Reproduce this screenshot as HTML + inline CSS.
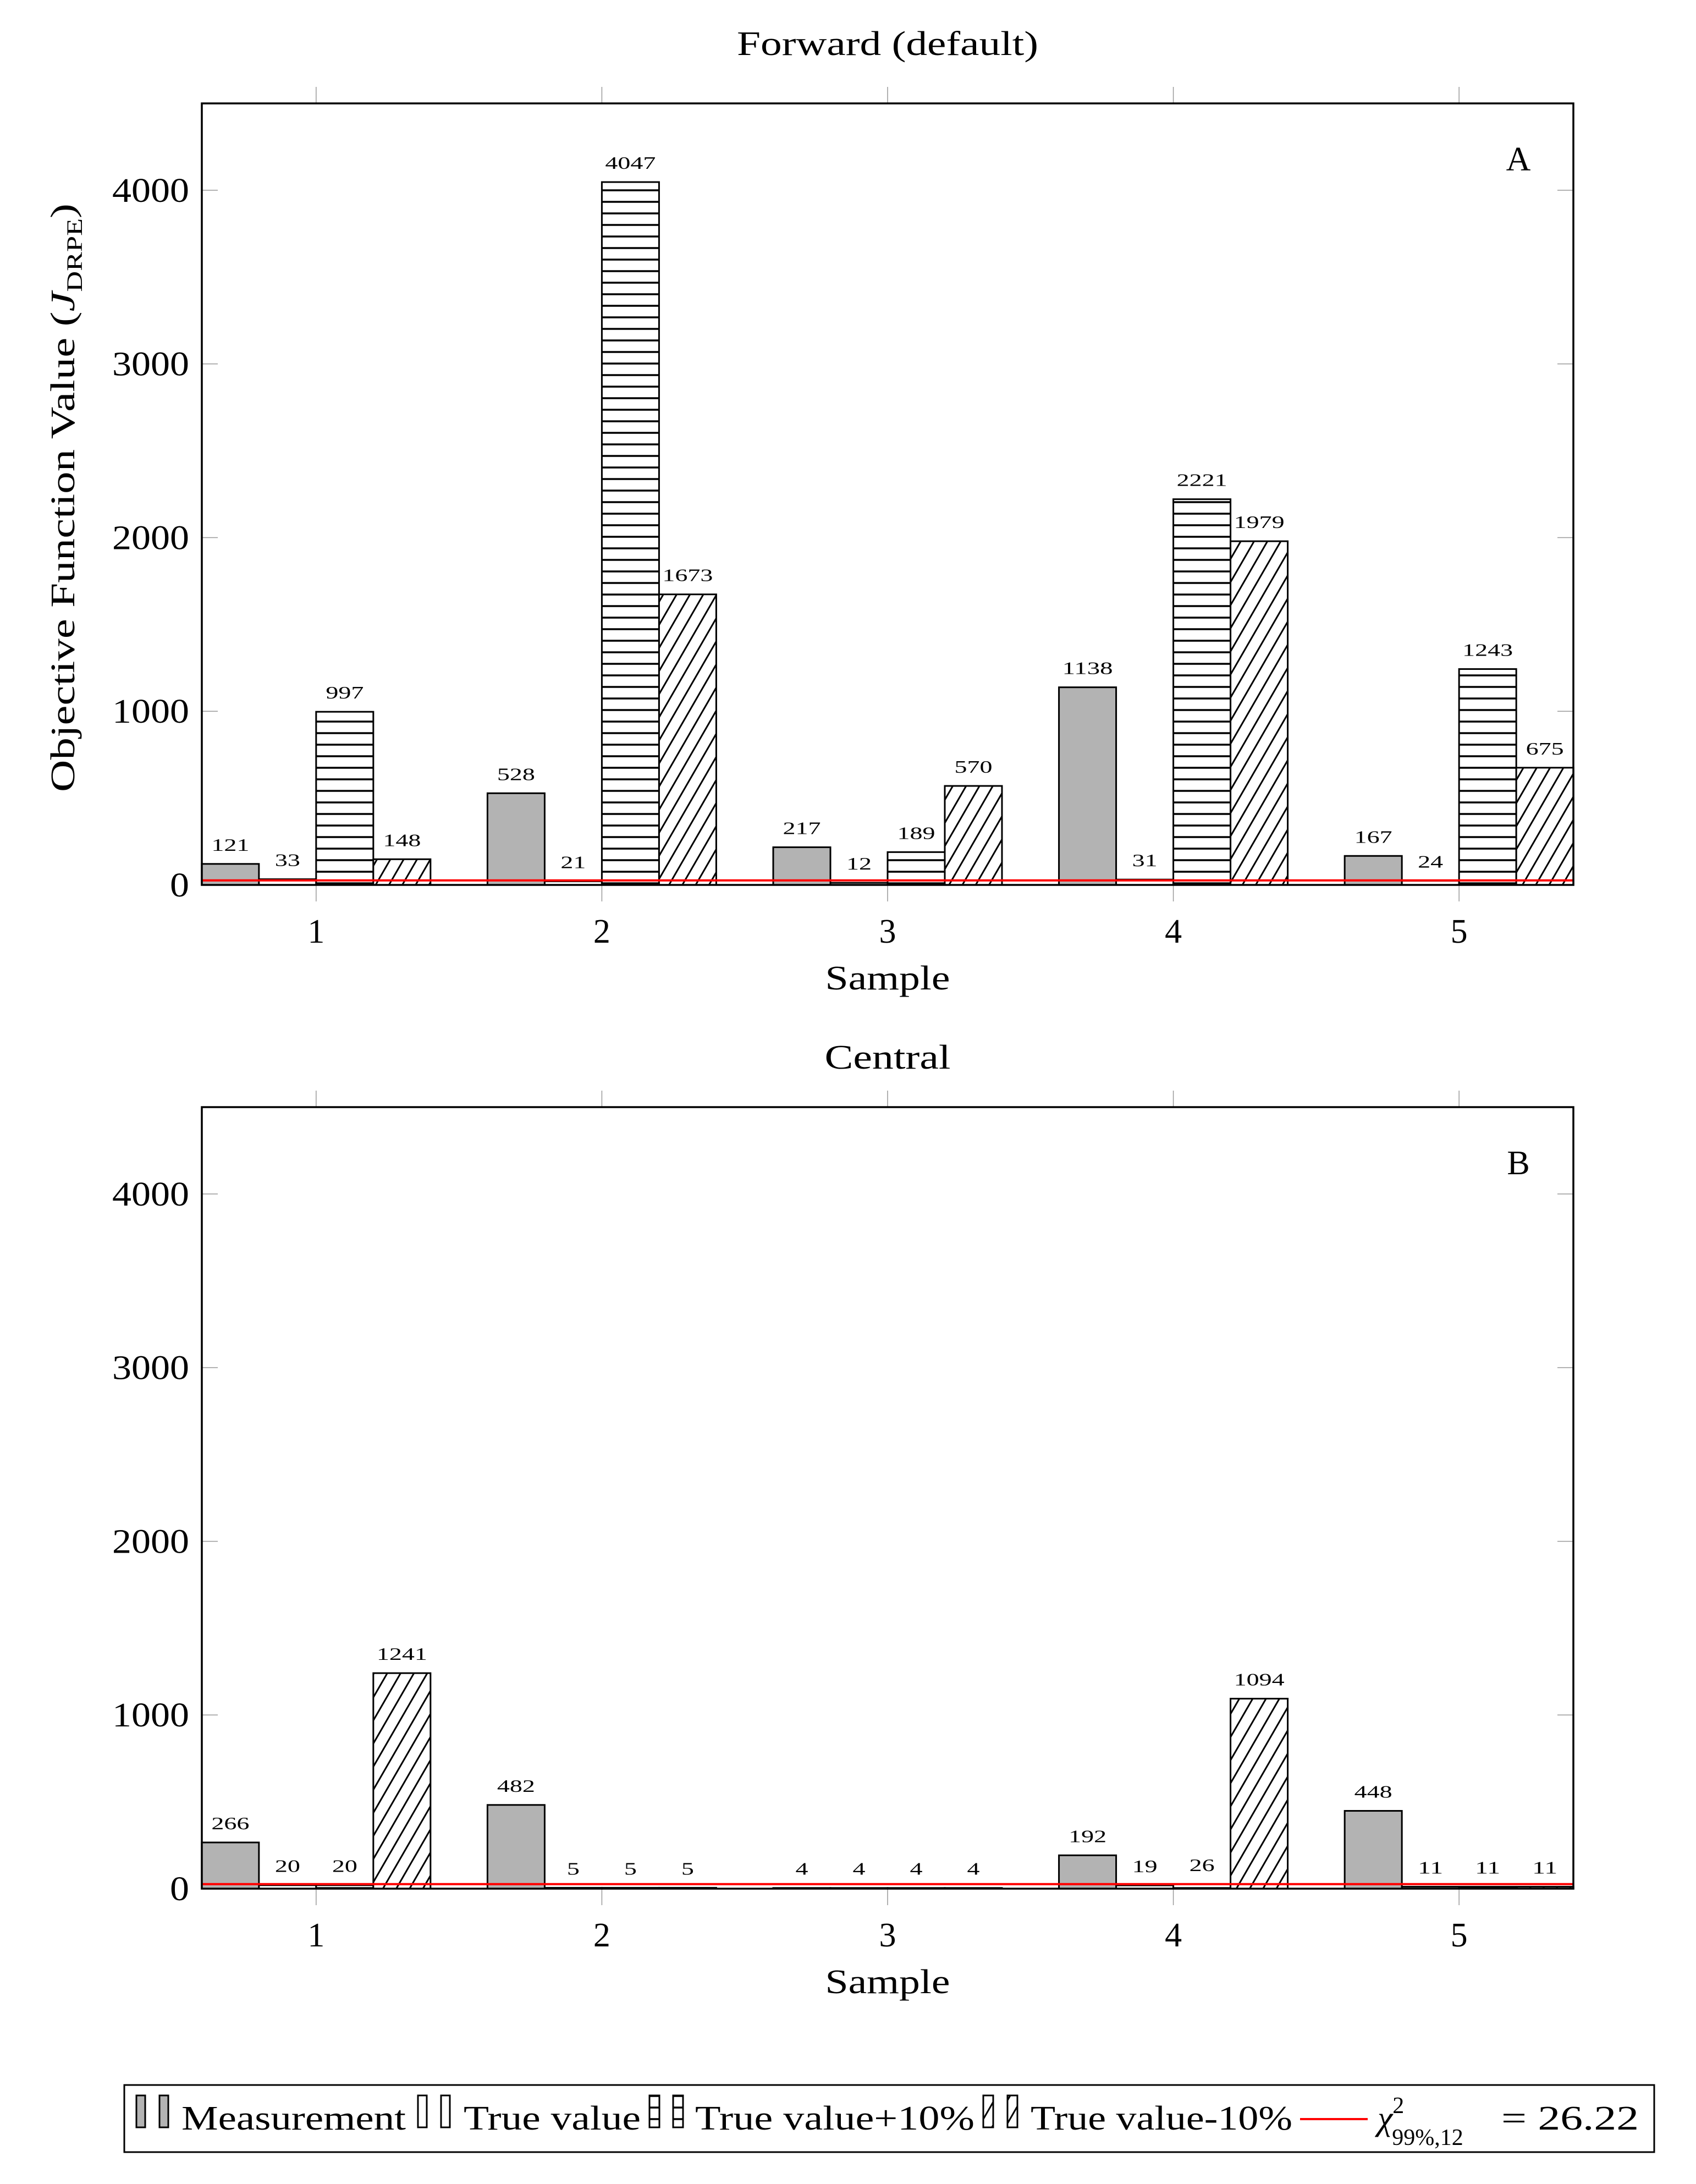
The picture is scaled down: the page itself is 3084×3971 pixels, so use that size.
<!DOCTYPE html>
<html><head><meta charset="utf-8">
<style>
html,body{margin:0;padding:0;background:#fff;}
svg{display:block;font-family:"Liberation Serif","DejaVu Serif",serif;}
</style></head>
<body>
<svg id="chart" width="3084" height="3971" viewBox="0 0 3084 3971" xmlns="http://www.w3.org/2000/svg">
<defs>
<pattern id="hlines" patternUnits="userSpaceOnUse" width="20" height="21"><rect width="20" height="21" fill="#fff"/><line x1="0" y1="10" x2="20" y2="10" stroke="#000" stroke-width="3.5"/></pattern>
<pattern id="dlines" patternUnits="userSpaceOnUse" width="21" height="21" patternTransform="rotate(30)"><rect width="21" height="21" fill="#fff"/><line x1="10" y1="0" x2="10" y2="21" stroke="#000" stroke-width="3"/></pattern>
</defs>
<g id="plots"></g>
<g>
<rect x="226" y="3791" width="2782" height="122" fill="#fff" stroke="#000" stroke-width="3"/>
<rect x="248" y="3810" width="16" height="58" fill="#b3b3b3" stroke="#000" stroke-width="3"/><rect x="290" y="3810" width="16" height="58" fill="#b3b3b3" stroke="#000" stroke-width="3"/>
<text x="330" y="3872" font-size="62" textLength="408" lengthAdjust="spacingAndGlyphs">Measurement</text>
<rect x="760" y="3810" width="16" height="58" fill="#fff" stroke="#000" stroke-width="3"/><rect x="802" y="3810" width="16" height="58" fill="#fff" stroke="#000" stroke-width="3"/>
<text x="843" y="3872" font-size="62" textLength="322" lengthAdjust="spacingAndGlyphs">True value</text>
<rect x="1181" y="3810" width="18" height="58" fill="url(#hlines)" stroke="#000" stroke-width="3"/><rect x="1224" y="3810" width="18" height="58" fill="url(#hlines)" stroke="#000" stroke-width="3"/>
<text x="1264" y="3872" font-size="62" textLength="508" lengthAdjust="spacingAndGlyphs">True value+10%</text>
<rect x="1788" y="3810" width="18" height="58" fill="url(#dlines)" stroke="#000" stroke-width="3"/><rect x="1832" y="3810" width="18" height="58" fill="url(#dlines)" stroke="#000" stroke-width="3"/>
<text x="1874" y="3872" font-size="62" textLength="476" lengthAdjust="spacingAndGlyphs">True value-10%</text>
<line x1="2364" y1="3853" x2="2487" y2="3853" stroke="#f00" stroke-width="4"/>
<text x="2505" y="3872" font-size="62" font-style="italic">χ<tspan font-size="42" dy="-30" font-style="normal">2</tspan><tspan font-size="42" dx="-22" dy="58" font-style="normal">99%,12</tspan></text>
<text x="2730" y="3872" font-size="62" textLength="250" lengthAdjust="spacingAndGlyphs">= 26.22</text>
</g>
</svg>
<script>
const samples = [1, 2, 3, 4, 5];
const yTicks = [0, 1000, 2000, 3000, 4000];
const measA = [121, 528, 217, 1138, 167];
const trueA = [33, 21, 12, 31, 24];
const plusA = [997, 4047, 189, 2221, 1243];
const minusA = [148, 1673, 570, 1979, 675];
const measB = [266, 482, 4, 192, 448];
const trueB = [20, 5, 4, 19, 11];
const plusB = [20, 5, 4, 26, 11];
const minusB = [1241, 5, 4, 1094, 11];
const chi2 = 26.22;

const NS = "http://www.w3.org/2000/svg";
const root = document.getElementById('plots');
function el(tag, attrs, parent, text) {
  const e = document.createElementNS(NS, tag);
  for (const k in attrs) e.setAttribute(k, attrs[k]);
  if (text !== undefined) e.textContent = text;
  parent.appendChild(e);
  return e;
}
const L = 367, R = 2861, XMIN = 0.6, XMAX = 5.4, YMAX = 4500;
const BW = 104;
function xs(v) { return L + (v - XMIN) / (XMAX - XMIN) * (R - L); }

function drawPlot(top, bottom, title, titleLen, titleY, letter, series, key) {
  const g = el('g', {}, root);
  
  
  const ys = v => bottom - v / YMAX * (bottom - top);
  const t = el('text', {x: (L + R) / 2, y: titleY, 'font-size': 62, 'text-anchor': 'middle', textLength: titleLen, lengthAdjust: 'spacingAndGlyphs'}, g, title);
  
  
  samples.forEach(s => {
    const x = xs(s);
    el('line', {x1: x, y1: top, x2: x, y2: top - 30, stroke: '#999', 'stroke-width': 1.5}, g);
    el('line', {x1: x, y1: bottom, x2: x, y2: bottom + 30, stroke: '#999', 'stroke-width': 1.5}, g);
    const lab = el('text', {x: x, y: bottom + 105, 'font-size': 62, 'text-anchor': 'middle'}, g, String(s));
    
    
  });
  yTicks.forEach(v => {
    const y = ys(v);
    el('line', {x1: L, y1: y, x2: L + 29, y2: y, stroke: '#999', 'stroke-width': 1.5}, g);
    el('line', {x1: R, y1: y, x2: R - 29, y2: y, stroke: '#999', 'stroke-width': 1.5}, g);
    const s = String(v);
    const lab = el('text', {x: 344, y: y + 21, 'font-size': 62, 'text-anchor': 'end', textLength: s.length * 35, lengthAdjust: 'spacingAndGlyphs'}, g, s);
    
    
  });
  const fills = ['#b3b3b3', '#fff', 'url(#hlines)', 'url(#dlines)'];
  const names = ['measurement', 'true-value', 'true-plus-10', 'true-minus-10'];
  series.forEach((arr, si) => {
    arr.forEach((v, i) => {
      const x0 = xs(samples[i]) + (si - 2) * BW;
      const y = ys(v);
      const r = el('rect', {x: x0, y: y, width: BW, height: bottom - y, fill: fills[si], stroke: '#000', 'stroke-width': 3}, g);
      
      
      const s = String(v);
      const lab = el('text', {x: x0 + BW / 2, y: y - 24, 'font-size': 32, 'text-anchor': 'middle', textLength: s.length * 23, lengthAdjust: 'spacingAndGlyphs'}, g, s);
      
      
    });
  });
  const ln = el('line', {x1: L, y1: ys(chi2), x2: R, y2: ys(chi2), stroke: '#f00', 'stroke-width': 4}, g);
  
  
  const fr = el('rect', {x: L, y: top, width: R - L, height: bottom - top, fill: 'none', stroke: '#000', 'stroke-width': 3.5}, g);
  
  
  const lt = el('text', {x: 2761, y: top + 122, 'font-size': 62, 'text-anchor': 'middle'}, g, letter);
  
  
  const xl = el('text', {x: (L + R) / 2, y: bottom + 190, 'font-size': 62, 'text-anchor': 'middle', textLength: 227, lengthAdjust: 'spacingAndGlyphs'}, g, 'Sample');
  
  
  return ys;
}
drawPlot(188, 1609, 'Forward (default)', 548, 100, 'A', [measA, trueA, plusA, minusA], 'a');
drawPlot(2013, 3434, 'Central', 229, 1943, 'B', [measB, trueB, plusB, minusB], 'b');
const yt = el('text', {x: 0, y: 0, 'font-size': 62, 'text-anchor': 'middle', transform: 'translate(135,905) rotate(-90)', textLength: 1070, lengthAdjust: 'spacingAndGlyphs'}, root);


yt.innerHTML = 'Objective Function Value (<tspan font-style="italic">J</tspan><tspan font-size="40" dy="14">DRPE</tspan><tspan dy="-14">)</tspan>';
</script>
</body></html>
